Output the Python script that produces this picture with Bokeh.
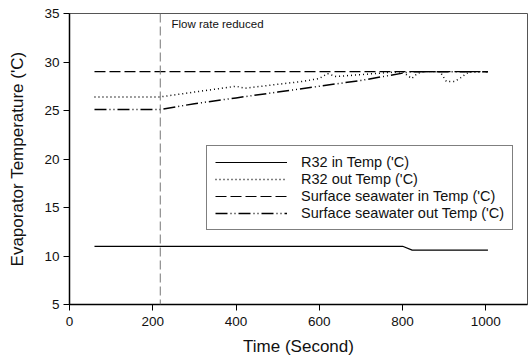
from bokeh.plotting import figure
from bokeh.models import Range1d, FixedTicker, Legend, LegendItem, Span, Label
from bokeh.embed import file_html
from bokeh.resources import INLINE

# Data (time in seconds, temperature in 'C)
r32_in_t = [60, 800, 823, 1005]
r32_in_v = [11.0, 11.0, 10.6, 10.6]

r32_out_t = [60, 218, 300, 400, 410, 422, 500, 560, 600, 620, 640, 700, 760, 800, 812, 822, 835, 850, 890, 905, 925, 940, 960, 1005]
r32_out_v = [26.4, 26.4, 26.9, 27.5, 27.4, 27.3, 27.7, 28.0, 28.3, 28.8, 28.5, 28.7, 28.9, 29.0, 28.6, 28.3, 28.8, 29.0, 29.0, 28.0, 28.0, 28.4, 29.0, 29.0]

sea_in_t = [60, 1005]
sea_in_v = [29.0, 29.0]

sea_out_t = [60, 218, 300, 400, 500, 600, 700, 820, 1005]
sea_out_v = [25.1, 25.1, 25.7, 26.3, 26.9, 27.5, 28.1, 29.0, 29.0]

flow_change_t = 218
annot_text = "Flow rate reduced"

x_ticks = [0, 200, 400, 600, 800, 1000]
y_ticks = [5, 10, 15, 20, 25, 30, 35]

FONT = "Liberation Sans"

p = figure(width=532, height=358, output_backend="svg", toolbar_location=None,
           x_range=Range1d(0, 1100), y_range=Range1d(5, 35),
           min_border_left=69, min_border_right=5, min_border_top=13, min_border_bottom=52)

p.background_fill_color = "white"
p.border_fill_color = "white"
p.outline_line_color = "#555555"
p.outline_line_width = 1
p.xgrid.visible = False
p.ygrid.visible = False

for ax in (p.xaxis[0], p.yaxis[0]):
    ax.axis_line_color = "black"
    ax.axis_line_width = 1.5
    ax.major_tick_line_color = "black"
    ax.major_tick_in = 0
    ax.major_tick_out = 6
    ax.minor_tick_line_color = None
    ax.major_label_text_font = FONT
    ax.major_label_text_font_size = "13.5px"
    ax.major_label_text_color = "#111111"
    ax.axis_label_text_font = FONT
    ax.axis_label_text_font_size = "17px"
    ax.axis_label_text_font_style = "normal"
    ax.axis_label_text_color = "#111111"

p.xaxis.ticker = FixedTicker(ticks=x_ticks)
p.yaxis.ticker = FixedTicker(ticks=y_ticks)
p.xaxis.axis_label = "Time (Second)"
p.yaxis.axis_label = "Evaporator Temperature ('C)"
p.xaxis.major_label_standoff = 6
p.xaxis.axis_label_standoff = 8
p.yaxis.major_label_standoff = 4
p.yaxis.axis_label_standoff = 14

r1 = p.line(r32_in_t, r32_in_v, line_color="black", line_width=1.2)
r2 = p.line(r32_out_t, r32_out_v, line_color="black", line_width=1.5, line_dash="1 3")
r3 = p.line(sea_in_t, sea_in_v, line_color="black", line_width=1.2, line_dash="11 4")
r4 = p.line(sea_out_t, sea_out_v, line_color="black", line_width=1.5, line_dash="12 3 1 3 1 3")

p.add_layout(Span(location=flow_change_t, dimension="height", line_color="#777777",
                  line_width=1, line_dash="9 4"))
p.add_layout(Label(x=flow_change_t + 27, y=33.9, text=annot_text, text_font=FONT,
                   text_font_size="11.5px", text_color="#111111", text_baseline="middle"))

legend = Legend(items=[
    LegendItem(label="R32 in Temp ('C)", renderers=[r1]),
    LegendItem(label="R32 out Temp ('C)", renderers=[r2]),
    LegendItem(label="Surface seawater in Temp ('C)", renderers=[r3]),
    LegendItem(label="Surface seawater out Temp ('C)", renderers=[r4]),
], location=(137, 74))
legend.border_line_color = "black"
legend.border_line_width = 1
legend.background_fill_alpha = 1
legend.label_text_font = FONT
legend.label_text_font_size = "14.5px"
legend.label_text_color = "#111111"
legend.glyph_width = 72
legend.glyph_height = 16
legend.label_height = 16
legend.label_standoff = 14
legend.spacing = 1
legend.padding = 8
legend.margin = 0
p.add_layout(legend, "center")

open("out.html", "w").write(file_html(p, INLINE))
